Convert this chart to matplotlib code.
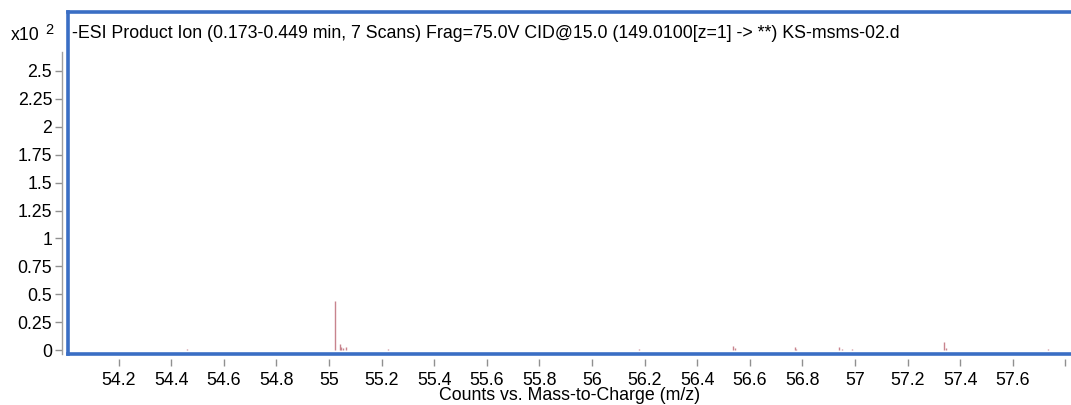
import matplotlib
matplotlib.use("Agg")
import matplotlib.pyplot as plt
from matplotlib.lines import Line2D

plt.rcParams['font.family'] = ['Liberation Sans', 'DejaVu Sans']

# m/z values and intensities (x10^2 counts)
mz = [54.46, 55.024, 55.042, 55.047, 55.053, 55.065, 55.225, 56.18,
      56.536, 56.543, 56.77, 56.777, 56.94, 56.95, 56.99, 57.34, 57.347, 57.735]
intensity = [0.01, 0.44, 0.05, 0.025, 0.018, 0.025, 0.012, 0.01,
             0.035, 0.015, 0.025, 0.012, 0.025, 0.012, 0.01, 0.07, 0.02, 0.01]

xticks = [54.2, 54.4, 54.6, 54.8, 55, 55.2, 55.4, 55.6, 55.8, 56, 56.2,
          56.4, 56.6, 56.8, 57, 57.2, 57.4, 57.6, 57.8]
xticklabels = ['54.2', '54.4', '54.6', '54.8', '55', '55.2', '55.4', '55.6', '55.8',
               '56', '56.2', '56.4', '56.6', '56.8', '57', '57.2', '57.4', '57.6', '']
yticks = [0, 0.25, 0.5, 0.75, 1, 1.25, 1.5, 1.75, 2, 2.25, 2.5]
yticklabels = ['0', '0.25', '0.5', '0.75', '1', '1.25', '1.5', '1.75', '2', '2.25', '2.5']

title = "-ESI Product Ion (0.173-0.449 min, 7 Scans) Frag=75.0V CID@15.0 (149.0100[z=1] -> **) KS-msms-02.d"

FS = 12.8
W, H = 1071, 405
fig = plt.figure(figsize=(W / 100, H / 100), dpi=100)
left, right, top, bottom = 67.5, 1071, 12.5, 353.5
ax = fig.add_axes([left / W, 1 - bottom / H, (right - left) / W, (bottom - top) / H])

ax.vlines(mz, 0, intensity, colors='#c8848e', linewidth=1.0)

ax.set_xlim(54.006, 57.821)
ax.set_ylim(-0.031, 3.024)

for s in ['top', 'right', 'bottom']:
    ax.spines[s].set_visible(False)
ax.spines['bottom'].set_position(('outward', 4))
ax.spines['left'].set_position(('outward', 4))
ax.spines['left'].set_bounds(-0.031, 2.67)
ax.spines['left'].set_color('#a0a0a0')
ax.spines['left'].set_linewidth(1.0)

ax.set_xticks(xticks)
ax.set_xticklabels(xticklabels)
ax.set_yticks(yticks)
ax.set_yticklabels(yticklabels)
ax.tick_params(axis='both', colors='#909090', labelcolor='black', labelsize=FS,
               length=5, width=1, direction='out')
ax.tick_params(axis='x', pad=4)
ax.tick_params(axis='y', pad=2)

# blue frame
blue = '#3a6ec4'
for (x0, y0, x1, y1) in [(0, 0, 0, 1), (0, 1, 1.01, 1), (0, 0, 1.01, 0)]:
    ax.add_line(Line2D([x0, x1], [y0, y1], transform=ax.transAxes, color=blue,
                       linewidth=2.6, clip_on=False, solid_capstyle='projecting'))

fig.text(72 / W, 1 - 33 / H, title, fontsize=FS, va='center', ha='left')
fig.text(11 / W, 1 - 35 / H, 'x10', fontsize=FS, va='center', ha='left')
fig.text(45 / W, 1 - 30 / H, '2', fontsize=10.5, va='center', ha='left')

fig.text(570 / W, 1 - 396 / H, 'Counts vs. Mass-to-Charge (m/z)', fontsize=FS,
         va='center', ha='center')

fig.savefig('out.png', dpi=100)
